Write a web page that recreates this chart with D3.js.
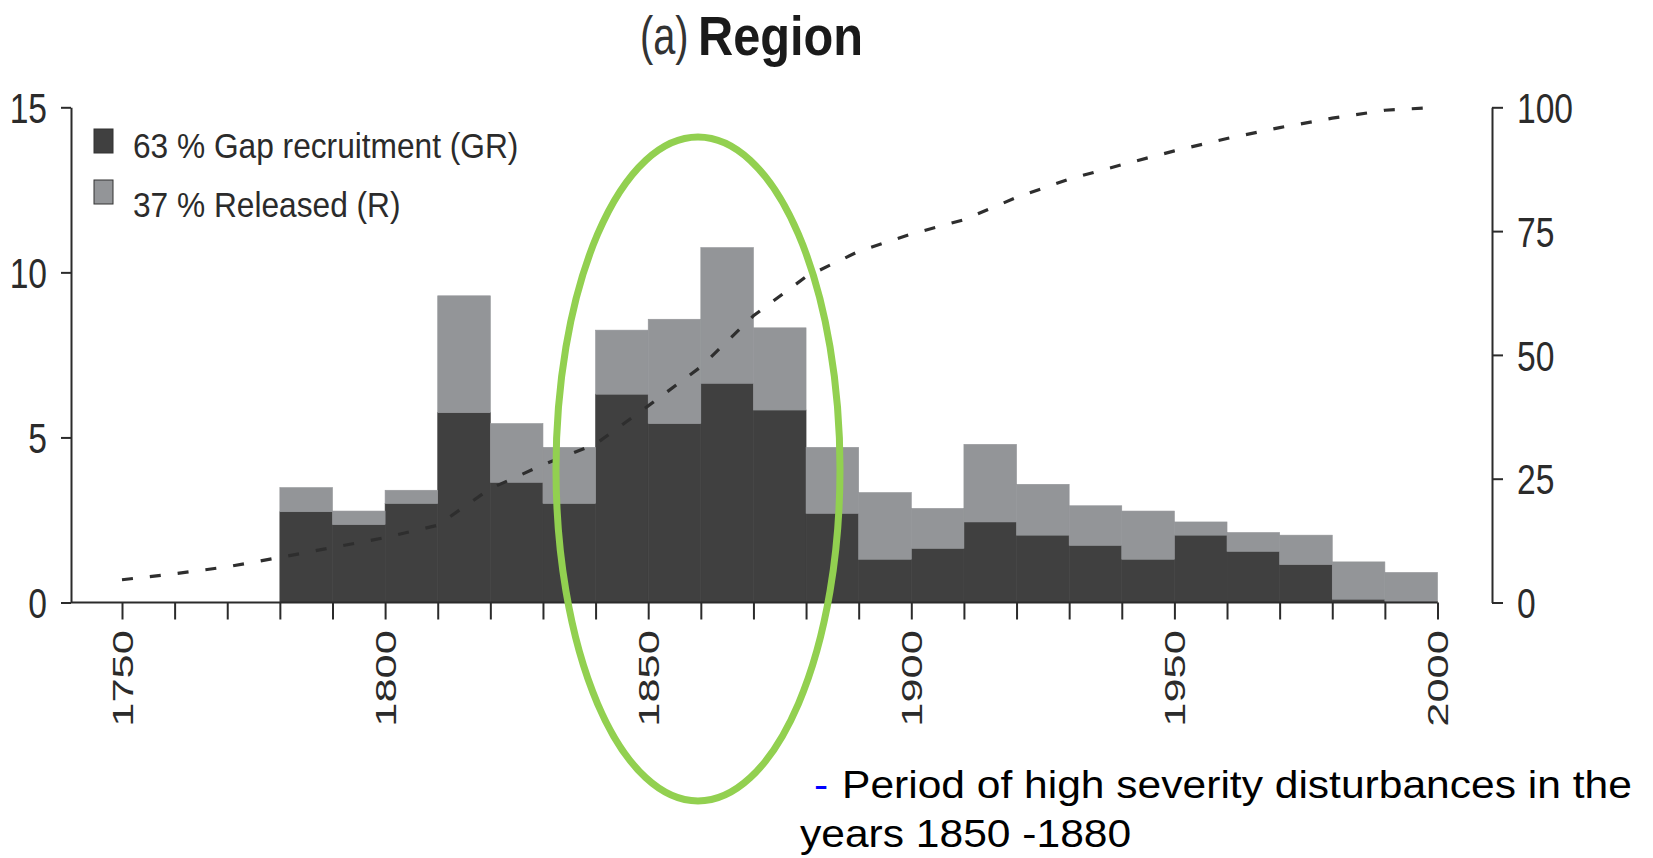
<!DOCTYPE html>
<html>
<head>
<meta charset="utf-8">
<script src="https://cdn.jsdelivr.net/npm/d3@7"></script>
<style>
  body { margin: 0; background: #fff; }
  svg { display: block; }
  text { font-family: "Liberation Sans", Arial, sans-serif; }
</style>
</head>
<body>
<div id="chart"></div>
<script>
// decade bins (start year)
const binStarts = [1780, 1790, 1800, 1810, 1820, 1830, 1840, 1850, 1860, 1870, 1880,
  1890, 1900, 1910, 1920, 1930, 1940, 1950, 1960, 1970, 1980, 1990];
const gapRecruitment = [2.75, 2.36, 3.0, 5.75, 3.64, 3.0, 6.31, 5.42, 6.64, 5.83, 2.70,
  1.31, 1.64, 2.44, 2.04, 1.73, 1.31, 2.04, 1.55, 1.15, 0.10, 0.03];
const released = [0.73, 0.41, 0.40, 3.54, 1.78, 1.70, 1.94, 3.16, 4.11, 2.49, 2.00,
  2.02, 1.21, 2.35, 1.54, 1.20, 1.46, 0.40, 0.57, 0.89, 1.13, 0.88];

// cumulative percentage (right axis)
const cumYears = [1750, 1760, 1770, 1780, 1790, 1800, 1810, 1820, 1830, 1840, 1850, 1860, 1870,
  1880, 1890, 1900, 1910, 1920, 1930, 1940, 1950, 1960, 1970, 1980, 1990, 2000];
const cumPercent = [4.6, 5.8, 7.2, 9.1, 11.1, 13.1, 15.6, 23.0, 27.8, 32.0, 39.7, 47.6, 57.9,
  65.8, 70.9, 74.4, 77.3, 81.8, 85.5, 88.4, 91.2, 93.7, 95.9, 97.8, 99.4, 100];

const leftTicks = [0, 5, 10, 15];
const rightTicks = [0, 25, 50, 75, 100];
const yearTicks = d3.range(1750, 2001, 10);
const labelYears = [1750, 1800, 1850, 1900, 1950, 2000];
const legendLabels = ['63 % Gap recruitment (GR)', '37 % Released (R)'];

const W = 1653, H = 858;
const colors = { gr: '#404040', r: '#939598', ink: '#2b2b2b', ring: '#92d050' };

const svg = d3.select('#chart').append('svg')
  .attr('width', W)
  .attr('height', H);

const axisX = 71, axisRX = 1492;
const x = d3.scaleLinear().domain([1750, 2000]).range([122, 1437.5]);
const y = d3.scaleLinear().domain([0, 15]).range([602.5, 107.3]);
const yR = d3.scaleLinear().domain([0, 100]).range([602.5, 107.3]);

// stacked bars
const rows = binStarts.map((b, i) => ({ start: b, gr: gapRecruitment[i], r: released[i] }));
const stack = d3.stack().keys(['gr', 'r'])(rows);

svg.append('g').selectAll('g')
  .data(stack)
  .enter().append('g')
  .attr('fill', d => colors[d.key])
  .attr('stroke', d => colors[d.key])
  .attr('stroke-width', 0.6)
  .selectAll('rect')
  .data(d => d)
  .enter().append('rect')
  .attr('x', d => x(d.data.start))
  .attr('width', d => x(d.data.start + 10) - x(d.data.start))
  .attr('y', d => y(d[1]))
  .attr('height', d => y(d[0]) - y(d[1]));

// cumulative dashed line
const line = d3.line()
  .x((d, i) => x(cumYears[i]))
  .y(d => yR(d));

svg.append('path')
  .datum(cumPercent)
  .attr('d', line)
  .attr('fill', 'none')
  .attr('stroke', '#2e2e2e')
  .attr('stroke-width', 3.2)
  .attr('stroke-dasharray', '11,17');

// x axis
const gx = svg.append('g')
  .attr('transform', `translate(0,${y(0)})`)
  .call(d3.axisBottom(x)
    .tickValues(yearTicks)
    .tickSize(17)
    .tickFormat(d => labelYears.includes(d) ? d : ''));
gx.select('.domain').remove();
gx.selectAll('line').attr('stroke', colors.ink).attr('stroke-width', 2);
gx.selectAll('text')
  .attr('x', 0).attr('y', 0)
  .attr('dy', '0.35em')
  .attr('text-anchor', 'end')
  .attr('transform', 'translate(0,27.5) rotate(-90) scale(1.5,1)')
  .attr('font-size', 29)
  .attr('font-family', '"Liberation Sans", Arial, sans-serif')
  .attr('fill', colors.ink);

svg.append('line')
  .attr('x1', axisX).attr('x2', x(2000))
  .attr('y1', y(0)).attr('y2', y(0))
  .attr('stroke', colors.ink).attr('stroke-width', 2);

// left axis
const gl = svg.append('g')
  .attr('transform', `translate(${axisX},0)`)
  .call(d3.axisLeft(y).tickValues(leftTicks).tickSize(10).tickSizeOuter(0));
gl.select('.domain').attr('stroke', colors.ink).attr('stroke-width', 2);
gl.selectAll('line').attr('stroke', colors.ink).attr('stroke-width', 2);
gl.selectAll('text')
  .attr('x', -24 / 0.8)
  .attr('dy', '0.36em')
  .attr('transform', 'scale(0.8,1)')
  .attr('font-size', 42)
  .attr('font-family', '"Liberation Sans", Arial, sans-serif')
  .attr('fill', colors.ink);

// right axis
const gr = svg.append('g')
  .attr('transform', `translate(${axisRX},0)`)
  .call(d3.axisRight(yR).tickValues(rightTicks).tickSize(11).tickSizeOuter(0));
gr.select('.domain').attr('stroke', colors.ink).attr('stroke-width', 2);
gr.selectAll('line').attr('stroke', colors.ink).attr('stroke-width', 2);
gr.selectAll('text')
  .attr('x', 25 / 0.8)
  .attr('dy', '0.36em')
  .attr('transform', 'scale(0.8,1)')
  .attr('font-size', 42)
  .attr('font-family', '"Liberation Sans", Arial, sans-serif')
  .attr('fill', colors.ink);

// legend
const legend = svg.append('g');
legend.selectAll('rect')
  .data(legendLabels)
  .enter().append('rect')
  .attr('x', 94)
  .attr('y', (d, i) => 129 + i * 51)
  .attr('width', 19)
  .attr('height', 24)
  .attr('fill', (d, i) => i === 0 ? colors.gr : colors.r)
  .attr('stroke', '#333')
  .attr('stroke-width', 1);

legend.selectAll('text')
  .data(legendLabels)
  .enter().append('text')
  .attr('transform', (d, i) => `translate(133,${158 + i * 59}) scale(0.88,1)`)
  .attr('font-size', 36)
  .attr('fill', colors.ink)
  .text(d => d);

// title
svg.append('text')
  .attr('transform', 'translate(640,54) scale(0.75,1)')
  .attr('font-size', 53)
  .attr('fill', '#333')
  .text('(a)');
svg.append('text')
  .attr('transform', 'translate(698,55) scale(0.87,1)')
  .attr('font-size', 56)
  .attr('font-weight', 'bold')
  .attr('fill', '#1a1a1a')
  .text('Region');

// highlight ring around 1850-1880
svg.append('ellipse')
  .attr('cx', 698).attr('cy', 469)
  .attr('rx', 142).attr('ry', 332)
  .attr('fill', 'none')
  .attr('stroke', colors.ring)
  .attr('stroke-width', 7);

// note below the chart
svg.append('text')
  .attr('transform', 'translate(814,798) scale(1.12,1)')
  .attr('font-size', 38)
  .attr('fill', '#0000ff')
  .text('-');
svg.append('text')
  .attr('transform', 'translate(842,798) scale(1.12,1)')
  .attr('font-size', 38)
  .attr('fill', '#000')
  .text('Period of high severity disturbances in the');
svg.append('text')
  .attr('transform', 'translate(800,847) scale(1.12,1)')
  .attr('font-size', 38)
  .attr('fill', '#000')
  .text('years 1850 -1880');
</script>
</body>
</html>
